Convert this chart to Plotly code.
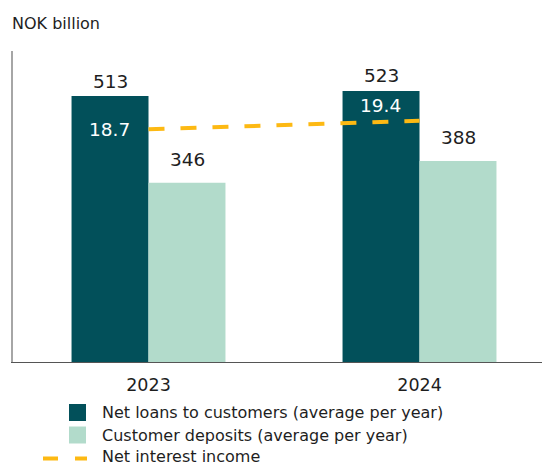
import plotly.graph_objects as go

# Data (NOK billion; net interest income on its own scale)
years = ["2023", "2024"]
net_loans = [513, 523]
customer_deposits = [346, 388]
net_interest_income = [18.7, 19.4]

series_names = [
    "Net loans to customers (average per year)",
    "Customer deposits (average per year)",
    "Net interest income",
]

DARK = "#02505A"
LIGHT = "#B2DBCB"
GOLD = "#FDB913"
TEXT = "#1E1E1E"
FONT = "DejaVu Sans, sans-serif"

W, H = 542, 465
M_L, M_R, M_T, M_B = 13, 0, 51, 103
plot_w = W - M_L - M_R
plot_h = H - M_T - M_B


def px_x(px):
    return (px - M_L) / plot_w


def px_y(py):
    return (H - M_B - py) / plot_h


fig = go.Figure()

fig.add_trace(go.Bar(
    x=years, y=net_loans, name=series_names[0],
    marker=dict(color=DARK, line=dict(width=0)),
    showlegend=False,
))
fig.add_trace(go.Bar(
    x=years, y=customer_deposits, name=series_names[1],
    marker=dict(color=LIGHT, line=dict(width=0)),
    showlegend=False,
))
fig.add_trace(go.Scatter(
    x=years, y=net_interest_income, name=series_names[2], yaxis="y2",
    mode="lines", line=dict(color=GOLD, width=4, dash="16px,16px"),
    showlegend=False,
))

# Bar value labels above each bar (category axes place annotations by index)
for values, dx, gap in [(net_loans, -38.5, 15), (customer_deposits, 38.5, 23)]:
    for i, v in enumerate(values):
        fig.add_annotation(
            x=i, y=v, xref="x", yref="y", text=str(v), showarrow=False,
            xshift=dx, yshift=gap, xanchor="center", yanchor="middle",
            font=dict(family=FONT, size=18.5, color=TEXT),
        )

# Net interest income values, drawn in white over the loan bars
nii_shifts = [(-39, 0), (-39, 15)]
for i, (v, (dx, dy)) in enumerate(zip(net_interest_income, nii_shifts)):
    fig.add_annotation(
        x=i, y=v, xref="x", yref="y2", text=f"{v:.1f}", showarrow=False,
        xshift=dx, yshift=dy, xanchor="center", yanchor="middle",
        font=dict(family=FONT, size=18.5, color="white"),
    )

# Unit label above the value axis
fig.add_annotation(
    x=0, y=px_y(23), xref="paper", yref="paper", text="NOK billion",
    showarrow=False, xanchor="left", yanchor="middle", xshift=-3,
    font=dict(family=FONT, size=16, color=TEXT),
)

# Legend drawn below the plot
shapes = []
rows = [412.5, 435.0, 456.5]
for i, cy in enumerate(rows[:2]):
    shapes.append(dict(
        type="rect", xref="paper", yref="paper",
        x0=px_x(69), x1=px_x(86), y0=px_y(cy - 8.5), y1=px_y(cy + 8.5),
        fillcolor=[DARK, LIGHT][i], line=dict(width=0),
    ))
shapes.append(dict(
    type="line", xref="paper", yref="paper",
    x0=px_x(43), x1=px_x(87), y0=px_y(458.5), y1=px_y(458.5),
    line=dict(color=GOLD, width=4, dash="15px,17px"),
))
for name, cy in zip(series_names, rows):
    fig.add_annotation(
        x=px_x(103), y=px_y(cy), xref="paper", yref="paper", text=name,
        showarrow=False, xanchor="left", yanchor="middle", xshift=-3,
        font=dict(family=FONT, size=16, color=TEXT),
    )

fig.update_layout(
    width=W, height=H,
    margin=dict(l=M_L, r=M_R, t=M_T, b=M_B, pad=0),
    paper_bgcolor="white", plot_bgcolor="white",
    barmode="group", bargap=0.432, bargroupgap=0,
    shapes=shapes,
    xaxis=dict(
        type="category", range=[-0.5, 1.452],
        showline=True, linecolor="#555555", linewidth=1,
        showgrid=False, ticks="", zeroline=False,
        tickfont=dict(family=FONT, size=17.5, color=TEXT),
        ticklabelstandoff=7,
    ),
    yaxis=dict(
        range=[0, 600], showline=True, linecolor="#A6A6A6", linewidth=2,
        showgrid=False, showticklabels=False, ticks="", zeroline=False,
    ),
    yaxis2=dict(
        range=[0, 25], overlaying="y", side="right",
        showline=False, showgrid=False, showticklabels=False,
        ticks="", zeroline=False,
    ),
    showlegend=False,
)

fig.write_html("out.html")
